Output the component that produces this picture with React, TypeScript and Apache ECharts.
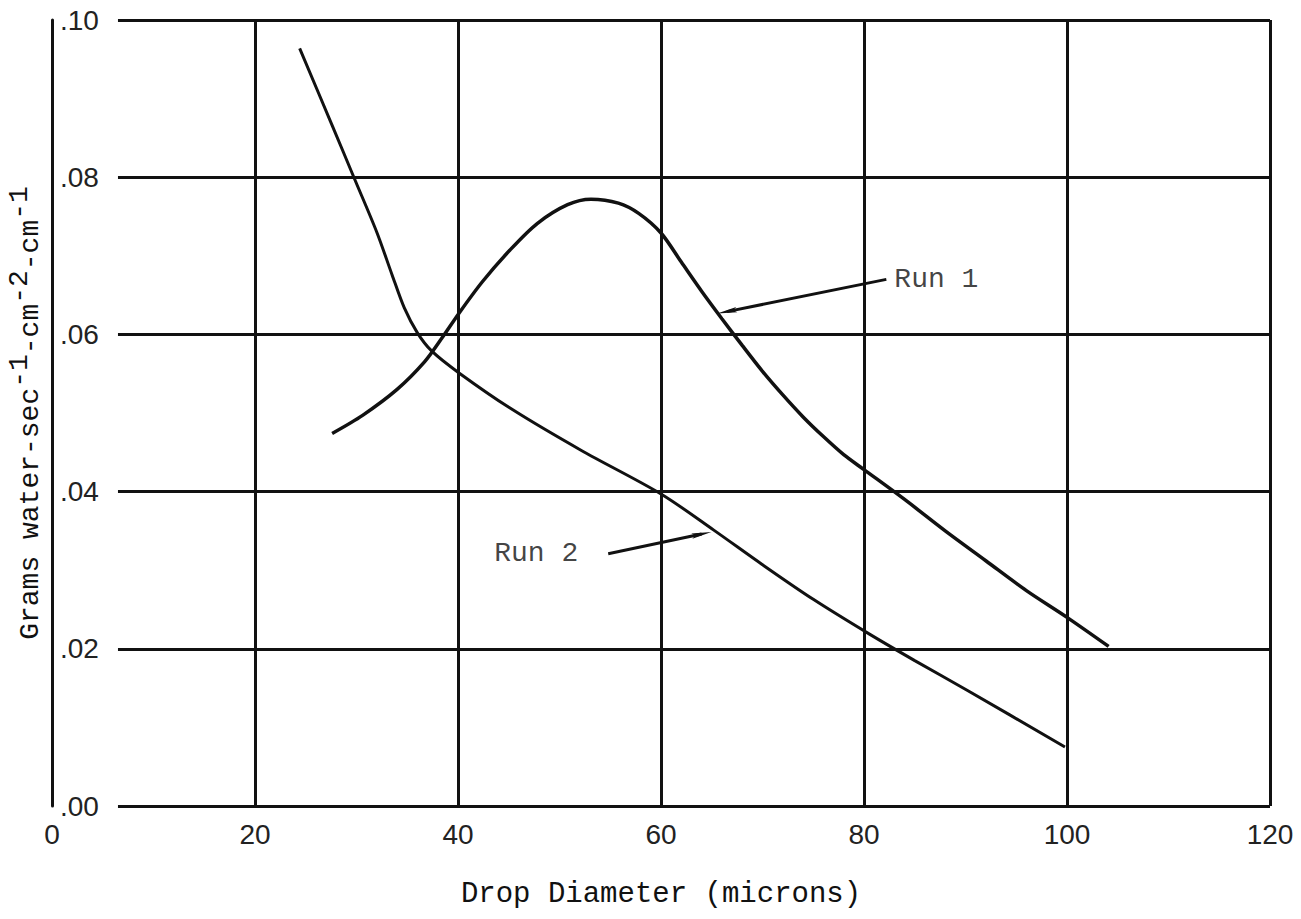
import React, { useEffect, useRef } from "react";
import * as echarts from "echarts";

// ---- data ----
const xTicks = [0, 20, 40, 60, 80, 100, 120];
const yTicks = [0, 0.02, 0.04, 0.06, 0.08, 0.1];

// Run 1 (hump-shaped curve): [drop diameter (microns), grams water/sec/cm^2/cm]
const run1: [number, number][] = [
  [27.6, 0.0474], [30.6, 0.0497], [34.0, 0.053], [36.7, 0.0565], [38.4, 0.0595],
  [40.1, 0.0627], [42.4, 0.0667], [45.1, 0.0707], [47.8, 0.0741], [50.8, 0.0765],
  [53.1, 0.0772], [55.8, 0.0767], [57.8, 0.0754], [60.0, 0.0729], [62.0, 0.0692],
  [64.0, 0.0655], [66.0, 0.062], [68.0, 0.0586], [70.0, 0.0553], [72.0, 0.0523],
  [74.0, 0.0495], [76.0, 0.047], [78.0, 0.0447], [80.0, 0.0428], [84.0, 0.039],
  [88.0, 0.035], [92.0, 0.0312], [96.0, 0.0274], [100.0, 0.024], [104.1, 0.0203],
];

// Run 2 (decreasing curve)
const run2: [number, number][] = [
  [24.4, 0.0964], [27.6, 0.0866], [29.8, 0.0798], [32.0, 0.073], [33.5, 0.0676],
  [34.7, 0.0634], [36.0, 0.0602], [37.4, 0.0579], [40.1, 0.0551], [45.4, 0.0504],
  [52.2, 0.0452], [60.0, 0.0397], [65.2, 0.0351], [70.0, 0.0307], [75.0, 0.0263],
  [80.5, 0.0219], [85.0, 0.0185], [90.2, 0.0147], [99.8, 0.0075],
];

// callouts: label, arrow start (label side), arrow end (at curve)
const run1Label = "Run 1";
const run1ArrowFrom: [number, number] = [82.2, 0.067];
const run1ArrowTo: [number, number] = [66.5, 0.0629];
const run2Label = "Run 2";
const run2ArrowFrom: [number, number] = [54.8, 0.0321];
const run2ArrowTo: [number, number] = [64.0, 0.0346];

// horizontal rules begin right of the tick labels
const hRuleStartX = 6.5;

const INK = "#111";
const MONO = "'Liberation Mono', 'DejaVu Sans Mono', monospace";
const TICKFONT = "'Liberation Sans Narrow', 'Liberation Sans', Arial, sans-serif";
const ARROW = "path://M3,0L6,22L3,18L0,22Z";

export default function App() {
  const ref = useRef<HTMLDivElement>(null);

  useEffect(() => {
    if (!ref.current) return;
    const chart = echarts.init(ref.current, undefined, { renderer: "svg" });

    const option: any = {
      animation: false,
      backgroundColor: "#fff",
      grid: {
        left: 52,
        right: 31,
        top: 20,
        bottom: 113,
        containLabel: false,
        outerBoundsMode: "none",
      },
      xAxis: {
        type: "value",
        min: 0,
        max: 120,
        interval: 20,
        name: "Drop Diameter (microns)",
        nameLocation: "middle",
        nameGap: 74,
        nameTextStyle: { fontFamily: MONO, fontSize: 29, color: INK },
        axisLine: { show: false },
        axisTick: { show: false },
        axisLabel: {
          margin: 14,
          fontFamily: TICKFONT,
          fontSize: 28,
          color: "#222",
          customValues: xTicks,
        },
        splitLine: { show: true, lineStyle: { color: INK, width: 3 } },
      },
      yAxis: {
        type: "value",
        min: 0,
        max: 0.1,
        interval: 0.02,
        name: "Grams water-sec{sup|-1}-cm{sup|-2}-cm{sup|-1}",
        nameLocation: "middle",
        nameRotate: 90,
        nameGap: -5,
        nameTextStyle: {
          fontFamily: MONO,
          fontSize: 28,
          color: INK,
          rich: {
            sup: { fontFamily: MONO, fontSize: 28, color: INK, padding: [0, 0, 22, 0] },
          },
        },
        axisLine: { show: true, lineStyle: { color: INK, width: 3 } },
        axisTick: { show: false },
        axisLabel: {
          inside: true,
          margin: 8,
          fontFamily: TICKFONT,
          fontSize: 28,
          color: "#222",
          formatter: (v: number) => "." + String(Math.round(v * 100)).padStart(2, "0"),
        },
        splitLine: { show: false },
      },
      series: [
        {
          name: "Run 1",
          type: "line",
          data: run1,
          smooth: 0.3,
          showSymbol: false,
          lineStyle: { color: INK, width: 3.5 },
          z: 3,
          markLine: {
            silent: true,
            symbol: ["none", "none"],
            label: { show: false },
            lineStyle: { color: INK, width: 3, type: "solid" },
            data: yTicks.map((v) => [
              { coord: [hRuleStartX, v] },
              { coord: [120, v] },
            ]),
          },
        },
        {
          name: "Run 2",
          type: "line",
          data: run2,
          smooth: 0.3,
          showSymbol: false,
          lineStyle: { color: INK, width: 3 },
          z: 3,
        },
        {
          name: "callouts",
          type: "scatter",
          symbolSize: 0,
          z: 4,
          data: [
            {
              value: run1ArrowFrom,
              name: run1Label,
              label: { position: "right", distance: 8 },
            },
            {
              value: run2ArrowFrom,
              name: run2Label,
              label: { position: "left", distance: 30 },
            },
          ],
          label: {
            show: true,
            formatter: (p: any) => p.name,
            fontFamily: MONO,
            fontSize: 28,
            color: INK,
          },
          markLine: {
            silent: true,
            symbol: ["none", ARROW],
            symbolSize: 20,
            symbolKeepAspect: true,
            label: { show: false },
            lineStyle: { color: INK, width: 3, type: "solid" },
            data: [
              [{ coord: run1ArrowFrom }, { coord: run1ArrowTo }],
              [{ coord: run2ArrowFrom }, { coord: run2ArrowTo }],
            ],
          },
        },
      ],
    };

    chart.setOption(option);
    return () => chart.dispose();
  }, []);

  return (
    <div
      ref={ref}
      style={{ position: "fixed", left: 0, top: 0, width: 1301, height: 919, background: "#fff" }}
    />
  );
}
